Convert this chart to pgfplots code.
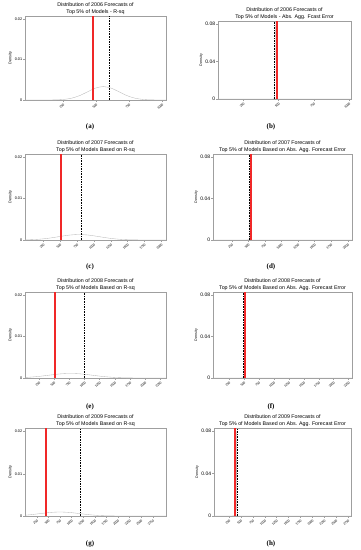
\documentclass[border=0pt]{standalone}
\usepackage{fontspec}
\setmainfont{Liberation Sans}
\newfontfamily\capfont{Liberation Serif}
\usepackage{pgfplots}
\pgfplotsset{compat=1.18}
\definecolor{rl}{RGB}{240,40,40}
\pgfplotsset{
  panel/.style={
    scale only axis, anchor=north west, clip=true,
    axis line style={gray!75, line width=0.45pt},
    tick style={gray!75, line width=0.35pt},
    tick align=outside, major tick length=1.6pt,
    xtick pos=bottom, ytick pos=left,
    /pgf/number format/assume math mode=true,
    scaled y ticks=false,
    ymin=0,
    x tick label style={rotate=45, anchor=north east, font=\fontsize{3.2}{3.5}\selectfont, inner sep=1pt},
    y tick label style={font=\fontsize{3.8}{4}\selectfont, inner sep=1pt},
    ylabel={Density},
    ylabel style={font=\fontsize{3.8}{4}\selectfont, yshift=-2pt},
    title style={font=\fontsize{5.3}{6.3}\selectfont, align=center, at={(0.5,1)}, anchor=south, yshift=-5.3pt, inner sep=1pt},
  },
  left/.style={panel, width=141pt, ymax=0.0208, ytick={0,0.01,0.02}, yticklabels={0,0.01,0.02}},
  right/.style={panel, ymax=0.083, ytick={0,0.04,0.08}, yticklabels={0,0.04,0.08},
    y tick label style={font=\fontsize{5}{5}\selectfont},
    ylabel style={font=\fontsize{3.6}{4}\selectfont}},
  dens/.style={gray!55, line width=0.35pt, smooth},
  rline/.style={rl, line width=1.8pt},
  bline/.style={black, line width=0.9pt, dash pattern=on 1.6pt off 1pt},
}
\begin{document}
\begin{tikzpicture}
\useasboundingbox (0pt,0pt) rectangle (361pt,-550pt);

% (a)
\begin{axis}[left, at={(25pt,-16pt)}, height=84pt, xmin=-38, xmax=1030,
  xtick={250,500,750,1000}, xticklabels={250,500,750,1000},
  title={Distribution of 2006 Forecasts of\\Top 5\% of Models - R-sq}]
\addplot[dens] coordinates {(-38,0) (75,0.000001) (135,0.000007) (195,0.000037) (255,0.000146) (315,0.000450) (375,0.001080) (435,0.002017) (495,0.002934) (555,0.003325) (615,0.002934) (675,0.002017) (735,0.001080) (795,0.000450) (855,0.000146) (915,0.000037) (975,0.000007) (1030,0.000001)};
\addplot[rline] coordinates {(475,0) (475,0.03)};
\addplot[bline] coordinates {(598,0) (598,0.03)};
\end{axis}

% (b)
\begin{axis}[right, at={(218pt,-21pt)}, width=133pt, height=78pt, xmin=71, xmax=1014,
  xtick={250,500,750,1000}, xticklabels={250,500,750,1000},
  title={Distribution of 2006 Forecasts of\\Top 5\% of Models - Abs. Agg. Fcast Error}]
\addplot[dens] coordinates {(71,0) (465,0.00003) (467,0.00022) (469,0.00111) (471,0.00438) (473,0.01349) (475,0.03237) (477,0.06047) (479,0.08799) (481,0.0997) (483,0.08799) (485,0.06047) (487,0.03237) (489,0.01349) (491,0.00438) (493,0.00111) (495,0.00022) (497,0.00003) (1014,0)};
\addplot[rline] coordinates {(492,0) (492,0.1)};
\addplot[bline] coordinates {(474,0) (474,0.1)};
\end{axis}

% (c)
\begin{axis}[left, at={(25pt,-154pt)}, height=86pt, xmin=-21, xmax=2070,
  xtick={250,500,750,1000,1250,1500,1750,2000}, xticklabels={250,500,750,1000,1250,1500,1750,2000},
  title={Distribution of 2007 Forecasts of\\Top 5\% of Models Based on R-sq}]
\addplot[dens] coordinates {(-21,0.00004) (30,0.0000584) (180,0.00018) (330,0.000432) (480,0.000807) (630,0.001174) (780,0.00133) (930,0.001174) (1080,0.000807) (1230,0.000432) (1380,0.00018) (1530,0.0000584) (1680,0.0000148) (1830,0.0000029) (1980,0) (2070,0)};
\addplot[rline] coordinates {(512,0) (512,0.03)};
\addplot[bline] coordinates {(818,0) (818,0.03)};
\end{axis}

% (d)
\begin{axis}[right, at={(213pt,-154pt)}, width=139pt, height=86pt, xmin=-32, xmax=2065,
  xtick={250,500,750,1000,1250,1500,1750,2000}, xticklabels={250,500,750,1000,1250,1500,1750,2000},
  title={Distribution of 2007 Forecasts of\\Top 5\% of Models Based on Abs. Agg. Forecast Error}]
\addplot[dens] coordinates {(-32,0) (510,0.00002) (512.5,0.00018) (515,0.00089) (517.5,0.0035) (520,0.0108) (522.5,0.0259) (525,0.0484) (527.5,0.0704) (530,0.0798) (532.5,0.0704) (535,0.0484) (537.5,0.0259) (540,0.0108) (542.5,0.0035) (545,0.00089) (547.5,0.00018) (550,0.00002) (2065,0)};
\addplot[rline] coordinates {(545,0) (545,0.1)};
\addplot[bline] coordinates {(520,0) (520,0.1)};
\end{axis}

% (e)
\begin{axis}[left, at={(25pt,-292pt)}, height=86pt, xmin=20, xmax=2344,
  xtick={250,500,750,1000,1250,1500,1750,2000,2250}, xticklabels={250,500,750,1000,1250,1500,1750,2000,2250},
  title={Distribution of 2008 Forecasts of\\Top 5\% of Models Based on R-sq}]
\addplot[dens] coordinates {(20,0.000126) (50,0.00015) (230,0.00036) (410,0.000672) (590,0.000978) (770,0.001108) (950,0.000978) (1130,0.000672) (1310,0.00036) (1490,0.00015) (1670,0.0000486) (1850,0.0000123) (2030,0.0000024) (2210,0.0000003) (2344,0)};
\addplot[rline] coordinates {(516,0) (516,0.03)};
\addplot[bline] coordinates {(1000,0) (1000,0.03)};
\end{axis}

% (f)
\begin{axis}[right, at={(213pt,-292pt)}, width=139pt, height=86pt, xmin=-18, xmax=2307,
  xtick={250,500,750,1000,1250,1500,1750,2000,2250}, xticklabels={250,500,750,1000,1250,1500,1750,2000,2250},
  title={Distribution of 2008 Forecasts of\\Top 5\% of Models Based on Abs. Agg. Forecast Error}]
\addplot[dens] coordinates {(-18,0) (490,0.00002) (492.5,0.00018) (495,0.00089) (497.5,0.0035) (500,0.0108) (502.5,0.0259) (505,0.0484) (507.5,0.0704) (510,0.0798) (512.5,0.0704) (515,0.0484) (517.5,0.0259) (520,0.0108) (522.5,0.0035) (525,0.00089) (527.5,0.00018) (530,0.00002) (2307,0)};
\addplot[rline] coordinates {(520,0) (520,0.1)};
\addplot[bline] coordinates {(496,0) (496,0.1)};
\end{axis}

% (g)
\begin{axis}[left, at={(25pt,-428pt)}, height=88pt, xmin=-2, xmax=3037,
  xtick={250,500,750,1000,1250,1500,1750,2000,2250,2500,2750}, xticklabels={250,500,750,1000,1250,1500,1750,2000,2250,2500,2750},
  title={Distribution of 2009 Forecasts of\\Top 5\% of Models Based on R-sq}]
\addplot[dens] coordinates {(-2,0.000191) (120,0.000308) (330,0.000576) (540,0.000838) (750,0.00095) (960,0.000838) (1170,0.000576) (1380,0.000308) (1590,0.000129) (1800,0.0000417) (2010,0.0000105) (2220,0.0000021) (2430,0.0000003) (2640,0) (3037,0)};
\addplot[rline] coordinates {(450,0) (450,0.03)};
\addplot[bline] coordinates {(1198,0) (1198,0.03)};
\end{axis}

% (h)
\begin{axis}[right, at={(214pt,-428pt)}, width=137pt, height=88pt, xmin=-65, xmax=2813,
  xtick={250,500,750,1000,1250,1500,1750,2000,2250,2500,2750}, xticklabels={250,500,750,1000,1250,1500,1750,2000,2250,2500,2750},
  title={Distribution of 2009 Forecasts of\\Top 5\% of Models Based on Abs. Agg. Forecast Error}]
\addplot[dens] coordinates {(-65,0) (385,0.00002) (387.5,0.00018) (390,0.00089) (392.5,0.0035) (395,0.0108) (397.5,0.0259) (400,0.0484) (402.5,0.0704) (405,0.0798) (407.5,0.0704) (410,0.0484) (412.5,0.0259) (415,0.0108) (417.5,0.0035) (420,0.00089) (422.5,0.00018) (425,0.00002) (2813,0)};
\addplot[rline] coordinates {(384,0) (384,0.1)};
\addplot[bline] coordinates {(422,0) (422,0.1)};
\end{axis}

\node[font=\capfont\bfseries\fontsize{7}{8}\selectfont] at (90pt,-127pt) {(a)};
\node[font=\capfont\bfseries\fontsize{7}{8}\selectfont] at (271pt,-127pt) {(b)};
\node[font=\capfont\bfseries\fontsize{7}{8}\selectfont] at (90pt,-267pt) {(c)};
\node[font=\capfont\bfseries\fontsize{7}{8}\selectfont] at (271pt,-267pt) {(d)};
\node[font=\capfont\bfseries\fontsize{7}{8}\selectfont] at (90pt,-407pt) {(e)};
\node[font=\capfont\bfseries\fontsize{7}{8}\selectfont] at (271pt,-407pt) {(f)};
\node[font=\capfont\bfseries\fontsize{7}{8}\selectfont] at (90pt,-544pt) {(g)};
\node[font=\capfont\bfseries\fontsize{7}{8}\selectfont] at (271pt,-544pt) {(h)};
\end{tikzpicture}
\end{document}
